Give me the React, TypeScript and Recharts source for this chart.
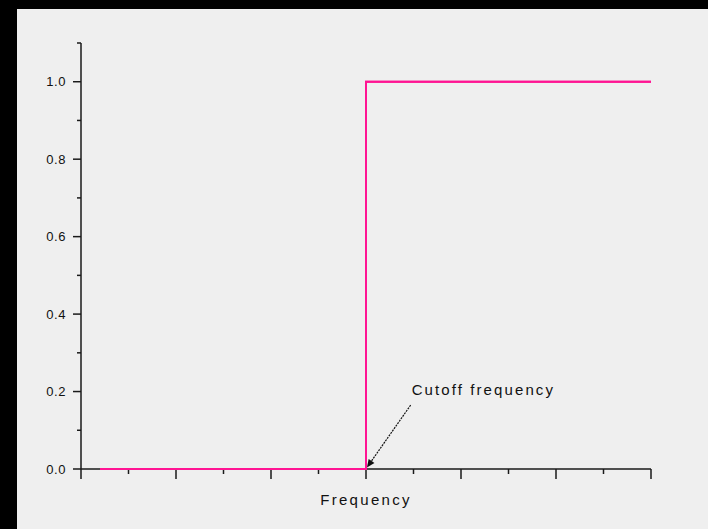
import { LineChart, Line, XAxis, YAxis, ReferenceLine } from 'recharts';

const freq = [0.2, 3, 6];
const gain = [0, 1, 1];
const xTicks = [0, 0.5, 1, 1.5, 2, 2.5, 3, 3.5, 4, 4.5, 5, 5.5, 6];
const yTicks = [0, 0.1, 0.2, 0.3, 0.4, 0.5, 0.6, 0.7, 0.8, 0.9, 1.0, 1.1];
const cutoffLabel = 'Cutoff frequency';
const arrowFrom = { x: 3.47, y: 0.165 };
const arrowTo = { x: 3.01, y: 0.004 };

const data = freq.map((f, i) => ({ f, g: gain[i] }));

const axisColor = '#1a1a1a';
const lineColor = '#ff1493';
const font = '"Liberation Sans", Arial, sans-serif';
const W = 691;
const H = 520;

function XTick(props: any) {
    const { x, y, payload } = props;
    const major = Number.isInteger(payload.value);
    return <line x1={x} x2={x} y1={y} y2={y + (major ? 10 : 5)} stroke={axisColor} strokeWidth={1.5} />;
}

function YTick(props: any) {
    const { x, y, payload } = props;
    const tenth = Math.round(payload.value * 10);
    const major = tenth % 2 === 0;
    return (
        <g>
            <line x1={x - (major ? 8 : 4)} x2={x} y1={y} y2={y} stroke={axisColor} strokeWidth={1.5} />
            {major && (
                <text
                    x={x - 15}
                    y={y}
                    textAnchor="end"
                    dominantBaseline="central"
                    fontSize={13}
                    letterSpacing={0.6}
                    fill="#111"
                    fontFamily={font}
                >
                    {(tenth / 10).toFixed(1)}
                </text>
            )}
        </g>
    );
}

function Arrow(props: any) {
    const { x1, y1, x2, y2 } = props;
    const ang = Math.atan2(y2 - y1, x2 - x1);
    const len = 8;
    const w = 3.5;
    const bx = x2 - len * Math.cos(ang);
    const by = y2 - len * Math.sin(ang);
    const px = -Math.sin(ang) * w;
    const py = Math.cos(ang) * w;
    return (
        <g>
            <line x1={x1} y1={y1} x2={bx} y2={by} stroke="#111" strokeWidth={1.2} strokeDasharray="2 1" />
            <polygon points={`${x2},${y2} ${bx + px},${by + py} ${bx - px},${by - py}`} fill="#111" />
            <text
                x={x1 + 1}
                y={y1 - 10}
                fontSize={15}
                letterSpacing={2.1}
                fill="#111"
                fontFamily={font}
            >
                {cutoffLabel}
            </text>
        </g>
    );
}

export default function App() {
    return (
        <div style={{ position: 'fixed', left: 0, top: 0, width: 708, height: 529, background: '#000' }}>
            <div style={{ position: 'absolute', left: 17, top: 9, width: W, height: H, background: '#efefef' }}>
                <div style={{ position: 'absolute', left: 0, top: 0 }}>
                    <LineChart width={W} height={H} data={data} margin={{ top: 34, right: 57, bottom: 0, left: 0 }}>
                        <XAxis
                            dataKey="f"
                            type="number"
                            domain={[0, 6]}
                            ticks={xTicks}
                            interval={0}
                            tickSize={0}
                            tickMargin={0}
                            tick={<XTick />}
                            height={60}
                            stroke={axisColor}
                            strokeWidth={1.5}
                            label={{
                                value: 'Frequency',
                                position: 'insideBottom',
                                offset: 24,
                                fontSize: 15,
                                letterSpacing: 2.3,
                                fill: '#111',
                                fontFamily: font,
                            }}
                        />
                        <YAxis
                            type="number"
                            domain={[0, 1.1]}
                            ticks={yTicks}
                            interval={0}
                            width={64}
                            tickSize={0}
                            tickMargin={0}
                            tick={<YTick />}
                            stroke={axisColor}
                            strokeWidth={1.5}
                        />
                        <Line
                            type="stepAfter"
                            dataKey="g"
                            stroke={lineColor}
                            strokeWidth={2}
                            dot={false}
                            isAnimationActive={false}
                        />
                        <ReferenceLine segment={[arrowFrom, arrowTo]} shape={<Arrow />} />
                    </LineChart>
                </div>
                {/* second layer so the pink step sits above the x axis line */}
                <div style={{ position: 'absolute', left: 0, top: 0, pointerEvents: 'none' }}>
                    <LineChart width={W} height={H} data={data} margin={{ top: 34, right: 57, bottom: 60, left: 64 }}>
                        <XAxis dataKey="f" type="number" domain={[0, 6]} hide />
                        <YAxis type="number" domain={[0, 1.1]} hide />
                        <Line
                            type="stepAfter"
                            dataKey="g"
                            stroke={lineColor}
                            strokeWidth={2}
                            dot={false}
                            isAnimationActive={false}
                        />
                    </LineChart>
                </div>
            </div>
        </div>
    );
}
